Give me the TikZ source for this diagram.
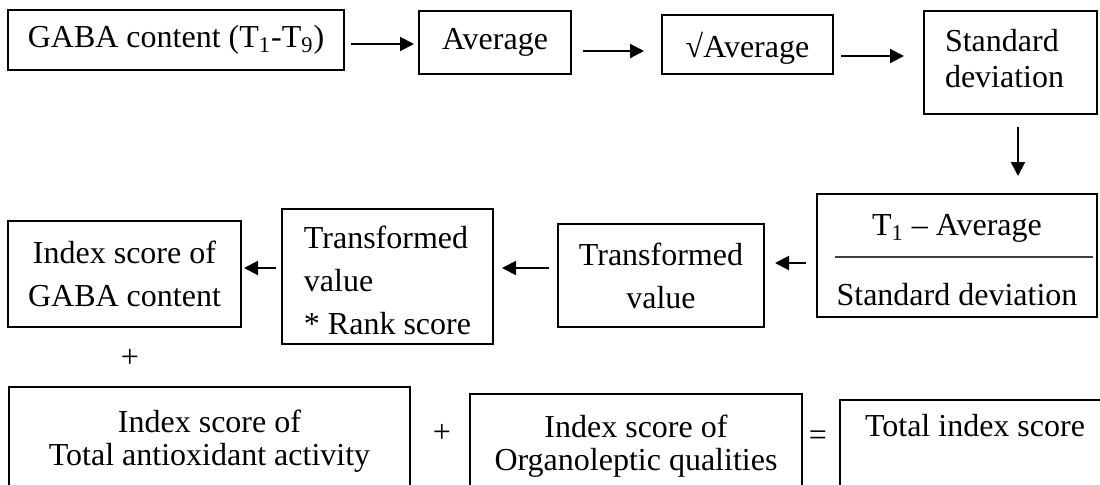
\documentclass[tikz,border=0pt]{standalone}
\usepackage{fontspec}
\setmainfont{Liberation Serif}
\usepackage{tikz}
\usetikzlibrary{arrows.meta, positioning}
\tikzstyle{block} = [rectangle, draw=black, line width=1pt, inner sep=0pt, align=center, font=\fontsize{16}{21.5}\selectfont]
\tikzstyle{arrow} = [line width=1pt, -{Triangle[length=7pt, width=7pt]}]
\tikzstyle{sign} = [inner sep=0pt, font=\fontsize{16}{19}\selectfont]

\begin{document}
\begin{tikzpicture}[x=0.5pt, y=-0.5pt]
        \clip (0,0) rectangle (1100,484);
        % Top row
        \node [block, minimum width=168pt, minimum height=30pt] (gaba) at (176,40) {GABA content (T\textsubscript{1}-T\textsubscript{9})};
        \node [block, minimum width=76pt, minimum height=31.5pt] (avg) at (495,42.5) {Average};
        \node [block, minimum width=85.5pt, minimum height=29.5pt] (sqrtavg) at (747.5,44.5) {\rule{0pt}{16.5pt}√Average};
        \node [block, align=left, text width=65.5pt, inner xsep=10.5pt, minimum height=51.5pt, font=\fontsize{16}{18}\selectfont] (stddev) at (1010.5,62.5) {Standard\\deviation\rule[-4pt]{0pt}{4pt}};

        % Middle row
        \node [block, minimum width=140pt, minimum height=61.5pt, font=\fontsize{16}{11}\selectfont] (ratio) at (957,255.5) {\rule{0pt}{15.5pt}T\textsubscript{1} -- Average\\\hspace*{7pt}\textcolor{black!75}{\rule{129pt}{0.7pt}}\\[12pt]Standard deviation};
        \node [block, minimum width=103pt, minimum height=51.5pt] (trans) at (661,275.5) {Transformed\\value};
        \node [block, align=left, minimum width=105.5pt, minimum height=67.5pt] (rank) at (387.5,276.5) {\rule{0pt}{15pt}Transformed\\value\\* Rank score};
        \node [block, minimum width=116.5pt, minimum height=53pt] (gabaidx) at (124.5,274) {Index score of\\GABA content};
        \node [sign] (plusa) at (130,358) {+};

        % Bottom row
        \node [block, minimum width=200.5pt, minimum height=54pt, font=\fontsize{16}{16.5}\selectfont] (taa) at (209.5,441) {Index score of\\Total antioxidant activity};
        \node [sign] (plusb) at (442,433) {+};
        \node [block, minimum width=166pt, minimum height=52pt, font=\fontsize{16}{16.5}\selectfont] (organo) at (636,446) {Index score of\\Organoleptic qualities};
        \node [sign] (equals) at (818,438) {=};
        \node [block, anchor=north, minimum width=135pt, text height=18pt, text depth=30pt] (total) at (975,399) {Total index score};

        % Arrows
        \draw [arrow, shorten <=3pt, shorten >=2pt] ([yshift=-2pt]gaba.east) -- ([yshift=-2pt]gaba.east -| avg.west);
        \draw [arrow, shorten <=5.5pt, shorten >=8.5pt] ([yshift=-4.25pt]avg.east) -- ([yshift=-4.25pt]avg.east -| sqrtavg.west);
        \draw [arrow, shorten <=3.5pt, shorten >=9.5pt] ([yshift=-5.75pt]sqrtavg.east) -- ([yshift=-5.75pt]sqrtavg.east -| stddev.west);
        \draw [arrow, shorten <=6pt, shorten >=8.5pt] ([xshift=3.75pt]stddev.south) -- ([xshift=3.75pt]stddev.south |- ratio.north);
        \draw [arrow, shorten <=5pt, shorten >=5pt] ([yshift=-3.75pt]ratio.west) -- ([yshift=-3.75pt]ratio.west -| trans.east);
        \draw [arrow, shorten <=4pt, shorten >=4pt] ([yshift=3.75pt]trans.west) -- ([yshift=3.75pt]trans.west -| rank.east);
        \draw [arrow, shorten <=2.5pt, shorten >=1pt] ([yshift=4.25pt]rank.west) -- ([yshift=4.25pt]rank.west -| gabaidx.east);
    \end{tikzpicture}
\end{document}
